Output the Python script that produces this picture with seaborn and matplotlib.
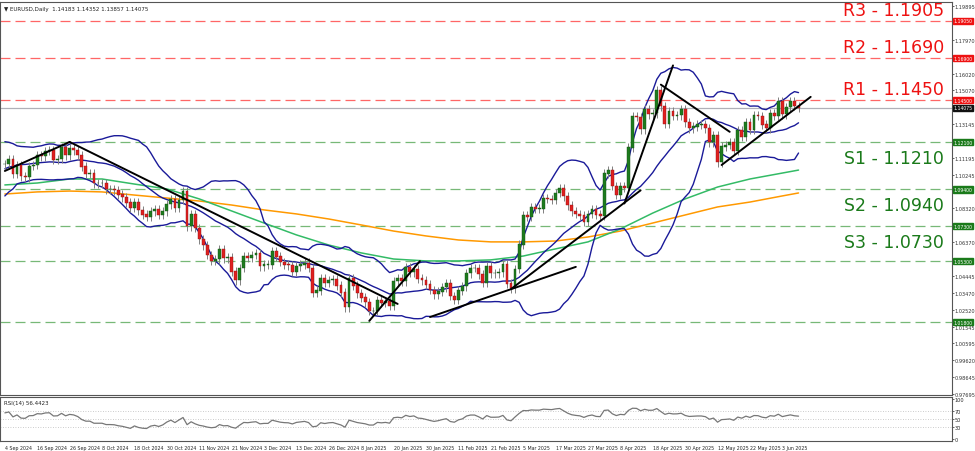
import numpy as np
import pandas as pd
import matplotlib
matplotlib.use("Agg")
import matplotlib.pyplot as plt
import seaborn as sns

sns.set_style("white")

# ---------------- data ----------------
pre_closes = [1.0915, 1.0935, 1.0920, 1.0980, 1.0995, 1.1015, 1.1030, 1.1070, 1.1090, 1.1110,
              1.1140, 1.1120, 1.1165, 1.1180, 1.1160, 1.1050, 1.1075, 1.1045, 1.1085]
closes = [
    1.1085, 1.1110, 1.1030, 1.1080, 1.1015, 1.1010, 1.1075, 1.1080,
    1.1135, 1.1130, 1.1160, 1.1165, 1.1110, 1.1115, 1.1180, 1.1135,
    1.1175, 1.1165, 1.1135, 1.1070, 1.1030, 1.1030, 1.0975, 1.0975,
    1.0975, 1.0940, 1.0940, 1.0935, 1.0910, 1.0895, 1.0865, 1.0835,
    1.0865, 1.0820, 1.0795, 1.0785, 1.0815, 1.0825, 1.0795, 1.0815,
    1.0855, 1.0885, 1.0835, 1.0880, 1.0930, 1.0730, 1.0800, 1.0720,
    1.0655, 1.0620, 1.0565, 1.0530, 1.0540, 1.0600, 1.0545, 1.0550,
    1.0470, 1.0420, 1.0490, 1.0560, 1.0550, 1.0565, 1.0575, 1.0500,
    1.0510, 1.0510, 1.0585, 1.0555, 1.0525, 1.0510, 1.0505, 1.0470,
    1.0500, 1.0510, 1.0520, 1.0490, 1.0350, 1.0360, 1.0430, 1.0405,
    1.0420, 1.0425, 1.0390, 1.0350, 1.0265, 1.0430, 1.0390, 1.0345,
    1.0320, 1.0295, 1.0245, 1.0245, 1.0305, 1.0290, 1.0300, 1.0275,
    1.0415, 1.0430, 1.0415, 1.0495, 1.0465, 1.0485, 1.0430, 1.0420,
    1.0395, 1.0365, 1.0340, 1.0355, 1.0380, 1.0400, 1.0330, 1.0310,
    1.0360, 1.0385, 1.0460, 1.0490, 1.0490, 1.0455, 1.0405, 1.0500,
    1.0460, 1.0460, 1.0465, 1.0510, 1.0400, 1.0375, 1.0485, 1.0625,
    1.0790, 1.0785, 1.0835, 1.0830, 1.0830, 1.0890, 1.0885, 1.0880,
    1.0920, 1.0945, 1.0900, 1.0850, 1.0815, 1.0800, 1.0790, 1.0755,
    1.0800, 1.0825, 1.0795, 1.0790, 1.1030, 1.1050, 1.0960, 1.0910,
    1.0960, 1.0950, 1.1180, 1.1360, 1.1355, 1.1285, 1.1400, 1.1370,
    1.1375, 1.1510, 1.1415, 1.1315, 1.1385, 1.1360, 1.1365, 1.1400,
    1.1325, 1.1290, 1.1300, 1.1310, 1.1310, 1.1290, 1.1210, 1.1250,
    1.1095, 1.1185, 1.1195, 1.1210, 1.1160, 1.1280, 1.1240, 1.1325,
    1.1280, 1.1365, 1.1360, 1.1310, 1.1290, 1.1375, 1.1360, 1.1445,
    1.1370, 1.1410, 1.1445, 1.1418, 1.14075,
]
wick = 0.0025

ma_idx = [0, 8, 16, 24, 32, 40, 48, 56, 64, 72, 80, 88, 96, 104, 112, 120, 128,
          136, 144, 152, 160, 168, 176, 184, 192, 196]
ma200 = [1.0914, 1.0926, 1.0931, 1.0926, 1.0908, 1.0891, 1.0874, 1.0851, 1.0823, 1.0800,
         1.0771, 1.0737, 1.0702, 1.0674, 1.0651, 1.0640, 1.0640, 1.0645, 1.0668, 1.0702,
         1.0748, 1.0794, 1.0840, 1.0868, 1.0903, 1.0920]
ma100 = [1.0966, 1.0977, 1.1000, 1.1000, 1.0971, 1.0943, 1.0886, 1.0817, 1.0748, 1.0680,
         1.0622, 1.0577, 1.0542, 1.0531, 1.0531, 1.0537, 1.0559, 1.0600, 1.0640, 1.0714,
         1.0805, 1.0886, 1.0954, 1.1000, 1.1034, 1.1051]

trend_x = [(0, 16), (16, 97), (90, 102.5), (105, 141), (125, 157), (153, 165), (162, 179), (177, 199)]
trend_y = [(1.1046, 1.1212), (1.1212, 1.0285), (1.0188, 1.0530), (1.0210, 1.0497),
           (1.0370, 1.0935), (1.0860, 1.1650), (1.1540, 1.1270), (1.1080, 1.1470)]

res_names = ["R3", "R2", "R1"]
res_levels = [1.1905, 1.1690, 1.1450]
sup_names = ["S1", "S2", "S3"]
sup_levels = [1.1210, 1.0940, 1.0730]
extra_sup = [1.0530, 1.0180]
last_price = 1.14075

price_ticks = [1.19895, 1.17970, 1.16020, 1.15070, 1.13145, 1.11195, 1.10245, 1.08320,
               1.06370, 1.04445, 1.03470, 1.02520, 1.01545, 1.00595, 0.99620, 0.98645, 0.97695]
date_labels = ["4 Sep 2024", "16 Sep 2024", "26 Sep 2024", "8 Oct 2024", "18 Oct 2024",
               "30 Oct 2024", "11 Nov 2024", "21 Nov 2024", "3 Dec 2024", "13 Dec 2024",
               "26 Dec 2024", "8 Jan 2025", "20 Jan 2025", "30 Jan 2025", "11 Feb 2025",
               "21 Feb 2025", "5 Mar 2025", "17 Mar 2025", "27 Mar 2025", "8 Apr 2025",
               "18 Apr 2025", "30 Apr 2025", "12 May 2025", "22 May 2025", "3 Jun 2025"]

# ---------------- derived ----------------
allc = pd.Series(pre_closes + closes)
n_pre = len(pre_closes)
mid = allc.rolling(20).mean().iloc[n_pre:].values
sd = allc.rolling(20).std(ddof=0).iloc[n_pre:].values
idx = np.arange(len(closes))
opens = np.array([pre_closes[-1]] + closes[:-1])
c = np.array(closes)
delta = allc.diff()
gain = delta.clip(lower=0).ewm(alpha=1 / 14, adjust=False).mean()
loss = (-delta.clip(upper=0)).ewm(alpha=1 / 14, adjust=False).mean()
rsi = (100 - 100 / (1 + gain / loss)).iloc[n_pre:].values

# ---------------- figure ----------------
fig = plt.figure(figsize=(9.75, 4.52), dpi=100)
ax = fig.add_axes([0.0, 0.124, 0.976, 0.869])
ax2 = fig.add_axes([0.0, 0.022, 0.976, 0.098])
xl = (-1.2, 233.8)
small = 3.6

for v in res_levels:
    ax.axhline(v, color="#ff6666", lw=0.9, ls=(0, (8, 4)), zorder=1)
for v in sup_levels + extra_sup:
    ax.axhline(v, color="#77b877", lw=0.9, ls=(0, (8, 4)), zorder=1)
ax.axhline(last_price, color="#b0b0b8", lw=0.9, zorder=1)

sns.lineplot(x=ma_idx, y=ma200, ax=ax, color="#ff9900", lw=1.1, zorder=2)
sns.lineplot(x=ma_idx, y=ma100, ax=ax, color="#33bb66", lw=1.1, zorder=2)
for arr in (mid, mid + 2 * sd, mid - 2 * sd):
    sns.lineplot(x=idx, y=arr, ax=ax, color="#1a1a99", lw=1.0, zorder=2)

up = c >= opens
top = np.maximum(c, opens)
bot = np.minimum(c, opens)
ax.vlines(idx, bot - wick, top + wick, color="#808080", lw=0.7, zorder=3)
ax.bar(idx[up], (top - bot)[up] + 0.0002, bottom=bot[up], width=0.7, color="#1e7b1e",
       edgecolor="#105010", lw=0.3, zorder=4)
ax.bar(idx[~up], (top - bot)[~up] + 0.0002, bottom=bot[~up], width=0.7, color="#e02020",
       edgecolor="#901010", lw=0.3, zorder=4)

for (x0, x1), (y0, y1) in zip(trend_x, trend_y):
    ax.plot([x0, x1], [y0, y1], color="black", lw=1.4, zorder=5)

for nm, v in zip(res_names, res_levels):
    ax.text(232, v + 0.0012, f"{nm} - {v:.4f}", color="#ee1111", fontsize=12.5,
            ha="right", va="bottom", zorder=6)
for nm, v in zip(sup_names, sup_levels):
    ax.text(232, v - 0.0040, f"{nm} - {v:.4f}", color="#1a7a1a", fontsize=12.5,
            ha="right", va="top", zorder=6)

ax.set_xlim(*xl)
ax.set_ylim(0.9764, 1.2012)
ax.set_xticks([])
ax.yaxis.tick_right()
ax.set_yticks(price_ticks)
ax.set_yticklabels([f"{t:.5f}" for t in price_ticks], fontsize=small, color="#333333")
ax.tick_params(axis="y", length=1.5, pad=0.8, width=0.5)
for s in ax.spines.values():
    s.set_color("#555555")
    s.set_linewidth(0.8)

def tag(axis, v, col):
    axis.text(1.002, v, f"{v:.5f}", transform=axis.get_yaxis_transform(), fontsize=3.3,
              color="white", va="center", ha="left",
              bbox=dict(boxstyle="square,pad=0.12", fc=col, ec=col))

for v in [1.19050, 1.16900, 1.14500]:
    tag(ax, v, "#ee1111")
tag(ax, last_price, "#111111")
for v in sup_levels + extra_sup:
    tag(ax, v, "#1a7a1a")

ax.text(0.004, 0.99, "▼ EURUSD,Daily  1.14183 1.14352 1.13857 1.14075", transform=ax.transAxes,
        fontsize=4.0, va="top", ha="left", color="#222222")

for v in (70, 50, 30):
    ax2.axhline(v, color="#bbbbbb", lw=0.6, ls=(0, (1, 2)))
sns.lineplot(x=idx, y=rsi, ax=ax2, color="#777777", lw=0.9)
ax2.set_xlim(*xl)
ax2.set_ylim(-5, 105)
ax2.yaxis.tick_right()
ax2.set_yticks([0, 30, 50, 70, 100])
ax2.set_yticklabels(["0", "30", "50", "70", "100"], fontsize=small)
ax2.tick_params(axis="y", length=1.5, pad=0.8, width=0.5)
ax2.set_xticks(np.arange(len(date_labels)) * 8)
ax2.set_xticklabels(date_labels, fontsize=3.4, ha="left")
ax2.tick_params(axis="x", length=2, pad=0.5, width=0.5)
for s in ax2.spines.values():
    s.set_color("#555555")
    s.set_linewidth(0.8)
ax2.text(0.004, 0.93, "RSI(14) 56.4423", transform=ax2.transAxes, fontsize=4.0,
         va="top", ha="left", color="#222222")
ax2.set_ylabel("")
ax.set_ylabel("")

fig.savefig("out.png", dpi=100)
